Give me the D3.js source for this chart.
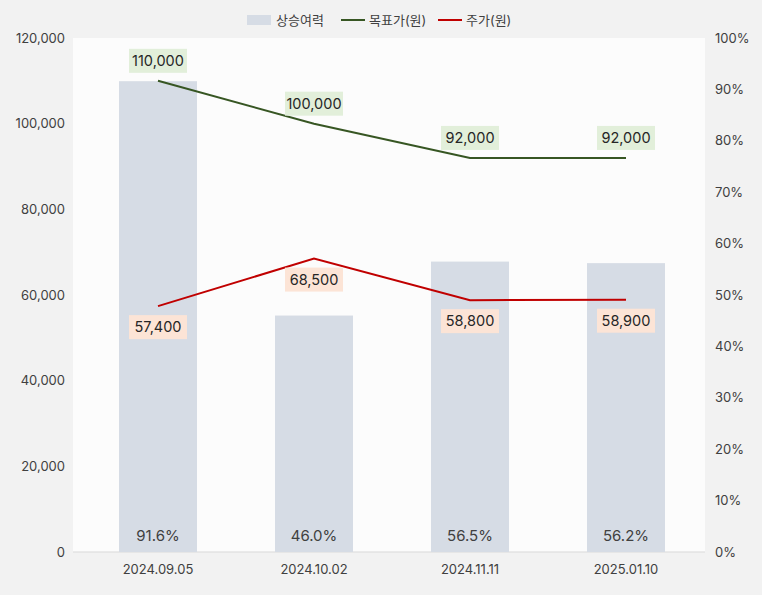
<!DOCTYPE html>
<html><head><meta charset="utf-8">
<script src="https://cdn.jsdelivr.net/npm/d3@7"></script>
<style>body{margin:0;background:#f2f2f2}text{font-family:Inter,"Noto Sans CJK KR",sans-serif}</style>
</head><body>
<svg id="c" width="762" height="595"></svg>
<script>
const categories=["2024.09.05","2024.10.02","2024.11.11","2025.01.10"];
const upside=[91.6,46.0,56.5,56.2];
const target=[110000,100000,92000,92000];
const price=[57400,68500,58800,58900];
const leftTicks=[0,20000,40000,60000,80000,100000,120000];
const rightTicks=[0,10,20,30,40,50,60,70,80,90,100];

const svg=d3.select("#c");
svg.append("rect").attr("width",762).attr("height",595).attr("fill","#f2f2f2");
const L=73,R=705,T=38,B=552;
svg.append("rect").attr("x",L).attr("y",T).attr("width",R-L).attr("height",B-T).attr("fill","#fcfcfc");
const x=d3.scaleBand().domain(categories).range([80,704]).paddingInner(0.5).paddingOuter(0.25);
const xc=d=>x(d)+x.bandwidth()/2;
const y=d3.scaleLinear().domain([0,120000]).range([B,T]);
const y2=d3.scaleLinear().domain([0,100]).range([B,T]);
const fmt=d3.format(",");

svg.append("g").attr("transform",`translate(${L},0)`).call(d3.axisLeft(y).tickValues(leftTicks).tickFormat(fmt).tickSize(0).tickPadding(8))
 .call(g=>g.select(".domain").remove()).selectAll("text").attr("font-size",13).attr("fill","#404040");
svg.append("g").attr("transform",`translate(${R},0)`).call(d3.axisRight(y2).tickValues(rightTicks).tickFormat(d=>d+"%").tickSize(0).tickPadding(10))
 .call(g=>g.select(".domain").remove()).selectAll("text").attr("font-size",13).attr("fill","#404040");
svg.append("g").attr("transform",`translate(0,${B})`).call(d3.axisBottom(x).tickSize(0).tickPadding(13))
 .call(g=>g.select(".domain").attr("stroke","#d9d9d9").attr("d",`M${L},0H${R}`)).selectAll("text").attr("font-size",13).attr("fill","#404040");

svg.selectAll(".bar").data(categories).join("rect").attr("x",d=>x(d)).attr("width",x.bandwidth())
 .attr("y",(d,i)=>y2(upside[i])).attr("height",(d,i)=>B-y2(upside[i])).attr("fill","#d6dce5");
svg.selectAll(".pl").data(categories).join("text").attr("x",d=>xc(d)).attr("y",541).attr("text-anchor","middle")
 .attr("font-size",15).attr("fill","#404040").text((d,i)=>upside[i].toFixed(1)+"%");

const line=d3.line().x((d,i)=>xc(categories[i])).y(d=>y(d));
svg.append("path").attr("d",line(target)).attr("fill","none").attr("stroke","#375623").attr("stroke-width",2);
svg.append("path").attr("d",line(price)).attr("fill","none").attr("stroke","#c00000").attr("stroke-width",2);

function labels(arr,dy,fill){
 arr.forEach((v,i)=>{
  const cx=xc(categories[i]),cy=y(v)+dy;
  svg.append("rect").attr("x",cx-29).attr("y",cy-12).attr("width",58).attr("height",24).attr("fill",fill);
  svg.append("text").attr("x",cx).attr("y",cy+5).attr("text-anchor","middle").attr("font-size",14.5).attr("fill","#262626").text(fmt(v));
 });
}
labels(target,-20,"#e2efda");
labels(price,21,"#fce4d6");

const lg=svg.append("g");
lg.append("rect").attr("x",247).attr("y",15).attr("width",24).attr("height",10).attr("fill","#d6dce5");
lg.append("text").attr("x",276).attr("y",25).attr("font-size",13).attr("fill","#404040").text("상승여력");
lg.append("line").attr("x1",341).attr("x2",365).attr("y1",20).attr("y2",20).attr("stroke","#375623").attr("stroke-width",2);
lg.append("text").attr("x",369).attr("y",25).attr("font-size",13).attr("fill","#404040").text("목표가(원)");
lg.append("line").attr("x1",438).attr("x2",462).attr("y1",20).attr("y2",20).attr("stroke","#c00000").attr("stroke-width",2);
lg.append("text").attr("x",466).attr("y",25).attr("font-size",13).attr("fill","#404040").text("주가(원)");
</script></body></html>
